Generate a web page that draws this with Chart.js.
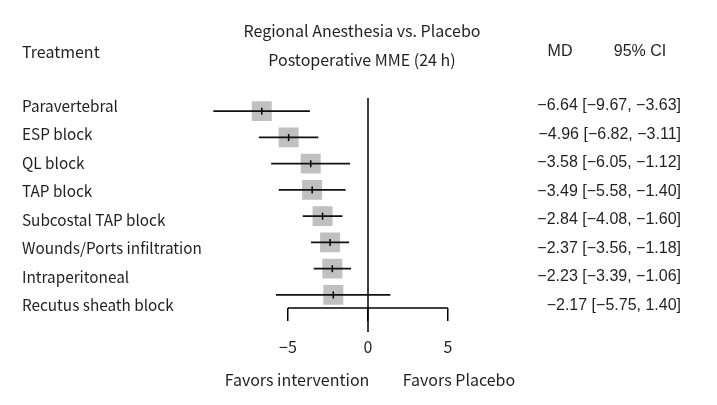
<!DOCTYPE html>
<html>
<head>
<meta charset="utf-8">
<script src="https://cdn.jsdelivr.net/npm/chart.js@4/dist/chart.umd.min.js"></script>
<style>
	body { margin: 0; background: #fff; }
</style>
</head>
<body>
<canvas id="plot" width="717" height="405"></canvas>
<script>
// forest plot: mean difference and 95% CI per treatment
const treatments = ["Paravertebral","ESP block","QL block","TAP block","Subcostal TAP block","Wounds/Ports infiltration","Intraperitoneal","Recutus sheath block"];
const md = [-6.64,-4.96,-3.58,-3.49,-2.84,-2.37,-2.23,-2.17];
const ciLow = [-9.67,-6.82,-6.05,-5.58,-4.08,-3.56,-3.39,-5.75];
const ciHigh = [-3.63,-3.11,-1.12,-1.40,-1.60,-1.18,-1.06,1.40];
const xTicks = [-5,0,5];

const INK = '#231f20';
const KR = "'Noto Sans CJK KR', 'Noto Sans', sans-serif";
const ARIAL = "'Liberation Sans', Arial, sans-serif";

function fmt(v) {
	return (v < 0 ? '\u2212' : '') + Math.abs(v).toFixed(2);
}
const mdText = md.map(function (v, i) {
	return fmt(v) + ' [' + fmt(ciLow[i]) + ', ' + fmt(ciHigh[i]) + ']';
});

// CI segments, broken by NaN points
const ciPoints = treatments.reduce(function (r, t, i) {
	r.push({x: ciLow[i], y: t}, {x: ciHigh[i], y: t}, {x: NaN, y: t});
	return r;
}, []);

// text columns are spaced a little wider than the plotted rows
function textAxis(pos, list, family, size, width) {
	return {
		type: 'linear',
		axis: 'y',
		position: pos,
		reverse: true,
		min: -0.28,
		max: 7.09,
		afterBuildTicks: function (s) { s.ticks = list.map(function (t, i) { return {value: i}; }); },
		afterFit: function (s) { s.width = width; },
		border: { display: false },
		grid: { display: false },
		ticks: {
			crossAlign: 'far',
			padding: 0,
			color: INK,
			font: { size: size, family: family },
			callback: function (v) { return list[v]; }
		}
	};
}

const decor = {
	id: 'decor',
	afterDraw: function (chart) {
		const ctx = chart.ctx, a = chart.chartArea, x = chart.scales.x;
		ctx.save();
		ctx.strokeStyle = '#000';
		ctx.lineWidth = 1.5;
		// axis line only between outer ticks
		ctx.beginPath();
		ctx.moveTo(x.getPixelForValue(xTicks[0]), a.bottom);
		ctx.lineTo(x.getPixelForValue(xTicks[xTicks.length-1]), a.bottom);
		ctx.stroke();
		// line of no effect
		ctx.beginPath();
		ctx.moveTo(x.getPixelForValue(0), a.top);
		ctx.lineTo(x.getPixelForValue(0), a.bottom + 24);
		ctx.stroke();

		ctx.fillStyle = INK;
		ctx.textBaseline = 'middle';
		ctx.font = '16px ' + KR;
		ctx.textAlign = 'left';
		ctx.fillText('Treatment', 22, 52);
		ctx.textAlign = 'center';
		ctx.fillText('Regional Anesthesia vs. Placebo', 362, 31);
		ctx.fillText('Postoperative MME (24 h)', 362, 60);
		ctx.fillText('Favors intervention', 297, 380);
		ctx.fillText('Favors Placebo', 459, 380);
		ctx.font = '16px ' + ARIAL;
		ctx.fillText('MD', 560, 52);
		ctx.fillText('95% CI', 640, 52);
		ctx.restore();
	}
};

new Chart(document.getElementById('plot'), {
	type: 'scatter',
	data: {
		labels: treatments,
		datasets: [{
			label: 'MD',
			data: md.map(function (v, i) { return {x: v, y: treatments[i]}; }),
			yAxisID: 'yRows',
			pointStyle: 'line',
			rotation: 90,
			radius: 3.5,
			borderWidth: 1.5,
			borderColor: '#000',
			order: 0
		}, {
			label: '95% CI',
			data: ciPoints,
			yAxisID: 'yRows',
			showLine: true,
			spanGaps: false,
			borderColor: '#111',
			borderWidth: 1.8,
			pointRadius: 0,
			order: 1
		}, {
			label: 'weight',
			data: md.map(function (v, i) { return {x: v, y: treatments[i]}; }),
			yAxisID: 'yRows',
			pointStyle: 'rect',
			radius: 14.14,
			backgroundColor: '#c0c0c0',
			borderWidth: 0,
			order: 2
		}]
	},
	options: {
		responsive: false,
		animation: false,
		events: [],
		layout: { padding: { top: 98, left: 22, right: 36, bottom: 0 } },
		plugins: { legend: { display: false }, tooltip: { enabled: false } },
		scales: {
			x: {
				type: 'linear',
				min: -10,
				max: 8,
				afterBuildTicks: function (s) { s.ticks = xTicks.map(function (v) { return {value: v}; }); },
				afterFit: function (s) { s.height = 97; },
				border: { display: false },
				grid: { drawOnChartArea: false, drawTicks: true, tickLength: 13, color: '#000', lineWidth: 1.5 },
				ticks: {
					padding: 16,
					color: INK,
					font: { size: 16, family: KR },
					callback: function (v) { return v < 0 ? '\u2212' + Math.abs(v) : String(v); }
				}
			},
			yRows: {
				type: 'category',
				axis: 'y',
				labels: treatments,
				offset: true,
				display: false
			},
			y: textAxis('left', treatments, KR, 15.3, 186),
			y2: textAxis('right', mdText, ARIAL, 16, 185)
		}
	},
	plugins: [decor]
});
</script>
</body>
</html>
